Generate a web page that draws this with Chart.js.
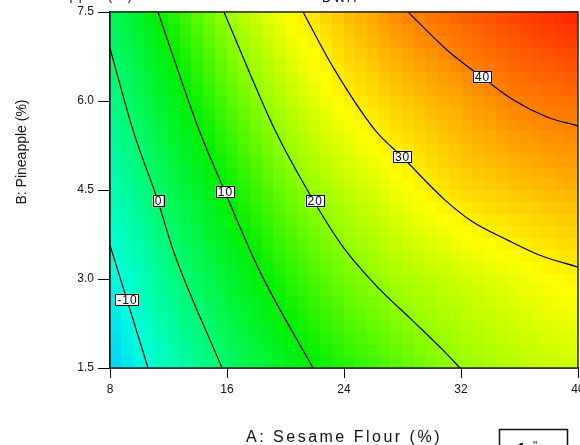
<!DOCTYPE html>
<html>
<head>
<meta charset="utf-8">
<script src="https://cdn.jsdelivr.net/npm/chart.js@4.4.0/dist/chart.umd.min.js"></script>
<style>
  html, body { margin: 0; padding: 0; background: #fff; }
  #wrap { width: 580px; height: 445px; }
</style>
</head>
<body>
<div id="wrap"><canvas id="contour" width="580" height="445"></canvas></div>
<script>
// respuesta (DWA), en una grilla gruesa A x B
const gridA = [8, 12, 16, 20, 24, 28, 32, 36, 40];
const gridB = [1.5, 3, 4.5, 6, 7.5];
const zB15 = [-15.2, -7.2, 0.6, 7.1, 12.2, 16.1, 20.1, 22.5, 24.5];
const zB30 = [-11.6, -2.5, 5.4, 12.1, 17.6, 21.5, 24.2, 26.8, 29];
const zB45 = [-6.7, 2.1, 10.4, 17.4, 22.8, 27.3, 31.5, 33.5, 35.5];
const zB60 = [-2.3, 6.8, 15.2, 22.5, 28.8, 33, 36.7, 40.4, 42];
const zB75 = [2, 11.6, 20.4, 27.8, 33.9, 39.5, 43.6, 47, 50];

// curvas de nivel
const levels = ['-10', '0', '10', '20', '30', '40'];
const aNeg10 = [8, 9.16, 10.6];
const bNeg10 = [3.57, 2.65, 1.5];
const a0 = [8, 9.57, 11.28, 12.31, 15.66];
const b0 = [6.89, 5.51, 4.31, 3.49, 1.5];
const a10 = [11.28, 14.09, 15.86, 18.26, 21.88];
const b10 = [7.5, 5.51, 4.47, 3.12, 1.5];
const a20 = [15.79, 19.28, 21.68, 23.93, 26.26, 28.51, 30.77, 31.93];
const b20 = [7.5, 5.51, 4.42, 3.54, 2.87, 2.34, 1.8, 1.5];
const a30 = [21.2, 23.25, 26.12, 27.97, 30.91, 32.82, 35.15, 37.4, 40];
const b30 = [7.5, 6.57, 5.51, 5.06, 4.33, 3.96, 3.66, 3.4, 3.2];
const a40 = [28.38, 31.04, 33.44, 35.56, 37.88, 40];
const b40 = [7.5, 6.86, 6.4, 6.02, 5.73, 5.58];

// donde van las etiquetas de cada curva
const labelA = [9.16, 11.28, 15.86, 22.0, 27.97, 33.44];
const labelB = [2.65, 4.31, 4.47, 4.31, 5.06, 6.4];

const xTicks = [8, 16, 24, 32, 40];
const yTicks = [1.5, 3.0, 4.5, 6.0, 7.5];

// escala de color tipo Design-Expert
const rampStops = [-16, -10, 0, 10, 20, 28, 40, 51];
const rampColors = [[0,200,255],[0,255,220],[0,250,110],[0,240,0],[150,255,0],[255,255,0],[255,130,0],[255,25,0]];

const gridZ = [zB15, zB30, zB45, zB60, zB75];

function findCell(arr, v) {
  let i = 0;
  while (i < arr.length - 2 && v > arr[i + 1]) i++;
  return i;
}

function valueAt(a, b) {
  const i = findCell(gridA, a), j = findCell(gridB, b);
  const ta = (a - gridA[i]) / (gridA[i + 1] - gridA[i]);
  const tb = (b - gridB[j]) / (gridB[j + 1] - gridB[j]);
  const z00 = gridZ[j][i], z10 = gridZ[j][i + 1], z01 = gridZ[j + 1][i], z11 = gridZ[j + 1][i + 1];
  return z00 * (1 - ta) * (1 - tb) + z10 * ta * (1 - tb) + z01 * (1 - ta) * tb + z11 * ta * tb;
}

function colorFor(v) {
  if (v <= rampStops[0]) return 'rgb(' + rampColors[0].join(',') + ')';
  for (let k = 0; k < rampStops.length - 1; k++) {
    if (v <= rampStops[k + 1]) {
      const t = (v - rampStops[k]) / (rampStops[k + 1] - rampStops[k]);
      const c = rampColors[k].map((c0, n) => Math.round(c0 + (rampColors[k + 1][n] - c0) * t));
      return 'rgb(' + c.join(',') + ')';
    }
  }
  return 'rgb(' + rampColors[rampColors.length - 1].join(',') + ')';
}

const toPts = (as, bs) => as.map((a, i) => ({ x: a, y: bs[i] }));
const contours = [toPts(aNeg10, bNeg10), toPts(a0, b0), toPts(a10, b10), toPts(a20, b20), toPts(a30, b30), toPts(a40, b40)];

// fondo de colores por celdas
const heatmap = {
  id: 'heatmap',
  beforeDatasetsDraw(chart) {
    const { ctx, scales: { x, y } } = chart;
    const nx = 40, ny = 30;
    const da = (x.max - x.min) / nx, db = (y.max - y.min) / ny;
    ctx.save();
    for (let i = 0; i < nx; i++) {
      for (let j = 0; j < ny; j++) {
        const a = x.min + i * da, b = y.min + j * db;
        const v = valueAt(a + da / 2, b + db / 2);
        const px0 = Math.floor(x.getPixelForValue(a)), px1 = Math.ceil(x.getPixelForValue(a + da));
        const py0 = Math.floor(y.getPixelForValue(b + db)), py1 = Math.ceil(y.getPixelForValue(b));
        ctx.fillStyle = colorFor(v);
        ctx.fillRect(px0, py0, px1 - px0, py1 - py0);
      }
    }
    ctx.restore();
  }
};

// marco, etiquetas de las curvas y textos
const extras = {
  id: 'extras',
  afterDatasetsDraw(chart) {
    const { ctx, chartArea: ca, scales: { x, y } } = chart;
    ctx.save();
    ctx.strokeStyle = '#222';
    ctx.lineWidth = 1.5;
    ctx.strokeRect(ca.left, ca.top, ca.right - ca.left, ca.bottom - ca.top);

    ctx.font = '12px "Liberation Sans", Arial, sans-serif';
    ctx.letterSpacing = '1px';
    ctx.textAlign = 'center';
    ctx.textBaseline = 'middle';
    levels.forEach((txt, i) => {
      const px = x.getPixelForValue(labelA[i]), py = y.getPixelForValue(labelB[i]);
      const w = ctx.measureText(txt).width + 3;
      ctx.fillStyle = '#fff';
      ctx.fillRect(px - w / 2, py - 6, w, 12);
      ctx.strokeStyle = '#000';
      ctx.lineWidth = 1;
      ctx.strokeRect(Math.round(px - w / 2) + 0.5, Math.round(py - 6) + 0.5, Math.round(w), 11);
      ctx.fillStyle = '#000';
      ctx.fillText(txt, px + 0.5, py + 0.5);
    });
    ctx.restore();
  },
  afterDraw(chart) {
    const { ctx, chartArea: ca } = chart;
    ctx.save();
    ctx.fillStyle = '#111';
    // titulo del eje X
    ctx.font = '16px "Liberation Sans", Arial, sans-serif';
    ctx.letterSpacing = '2.5px';
    ctx.textAlign = 'center';
    ctx.textBaseline = 'alphabetic';
    ctx.fillText('A: Sesame Flour (%)', (ca.left + ca.right) / 2, ca.bottom + 74);
    // titulo del eje Y
    ctx.letterSpacing = '0px';
    ctx.font = '14px "Liberation Sans", Arial, sans-serif';
    ctx.translate(26, ca.top + 140);
    ctx.rotate(-Math.PI / 2);
    ctx.fillText('B: Pineapple (%)', 0, 0);
    ctx.setTransform(1, 0, 0, 1, 0, 0);
    // textos cortados arriba
    ctx.font = '13px "Liberation Sans", Arial, sans-serif';
    ctx.letterSpacing = '2px';
    ctx.textAlign = 'right';
    ctx.fillText('X2 = B: Pineapple (%)', 134, 0);
    ctx.textAlign = 'center';
    ctx.fillText('DWA', 340, 1.5);
    // cuadro abajo a la derecha
    ctx.strokeStyle = '#111';
    ctx.lineWidth = 1.5;
    ctx.strokeRect(499.5, 429.5, 68, 30);
    ctx.letterSpacing = '0px';
    ctx.font = 'bold 16px "Liberation Sans", Arial, sans-serif';
    ctx.textAlign = 'left';
    ctx.fillText('1', 517, 455);
    ctx.font = '12px "Liberation Sans", Arial, sans-serif';
    ctx.fillText('"', 533, 450);
    ctx.restore();
  }
};

const config = {
  type: 'scatter',
  data: {
    datasets: contours.map((pts, i) => ({
      label: levels[i],
      data: pts,
      showLine: true,
      borderColor: '#000',
      borderWidth: 1.2,
      pointRadius: 0,
      cubicInterpolationMode: 'monotone'
    }))
  },
  options: {
    responsive: false,
    animation: false,
    layout: { padding: { top: 12, right: 2, left: 0, bottom: 0 } },
    plugins: { legend: { display: false }, tooltip: { enabled: false } },
    scales: {
      x: {
        type: 'linear',
        min: 8,
        max: 40,
        afterBuildTicks: s => { s.ticks = xTicks.map(v => ({ value: v })); },
        afterFit: s => { s.height = 77; s.paddingLeft = 0; s.paddingRight = 0; },
        grid: { drawOnChartArea: false, drawTicks: true, tickLength: 10, color: '#000' },
        border: { display: true, color: '#000', width: 1.5 },
        ticks: {
          padding: 4,
          color: '#111',
          font: { family: '"Liberation Sans", Arial, sans-serif', size: 12 },
          callback: v => String(v)
        }
      },
      y: {
        type: 'linear',
        min: 1.5,
        max: 7.5,
        afterBuildTicks: s => { s.ticks = yTicks.map(v => ({ value: v })); },
        afterFit: s => { s.width = 110; s.paddingTop = 0; s.paddingBottom = 0; },
        grid: { drawOnChartArea: false, drawTicks: true, tickLength: 12, color: '#000' },
        border: { display: true, color: '#000', width: 1.5 },
        ticks: {
          padding: 4,
          color: '#111',
          font: { family: '"Liberation Sans", Arial, sans-serif', size: 12 },
          callback: v => Number(v).toFixed(1)
        }
      }
    }
  },
  plugins: [heatmap, extras]
};

const contourChart = new Chart(document.getElementById('contour'), config);
</script>
</body>
</html>
